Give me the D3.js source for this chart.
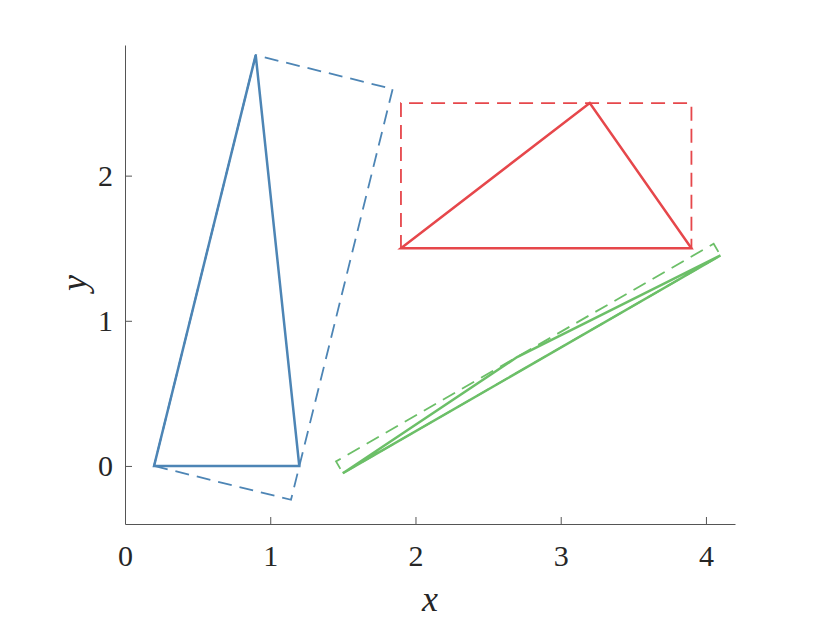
<html>
<title>Triangles and bounding boxes</title>
<script src="https://d3js.org/d3.v7.min.js"></script>
<style>
body { margin: 0; background: #fff; }
.tick text { font-family: "Liberation Serif", "Times New Roman", serif; font-size: 30px; fill: #262626; }
.axis path, .axis line { stroke: #555; stroke-width: 1; }
.lbl { font-family: "Liberation Serif", "Times New Roman", serif; font-style: italic; font-size: 36px; fill: #262626; }
</style>
<body>
<svg width="830" height="623"></svg>
<script>

// triangles (solid) and their bounding rectangles (dashed), in data units
var blueTri  = [[0.2, 0], [0.9, 2.83], [1.2, 0]];
var blueBox  = [[0.2, 0], [1.143, -0.233], [1.843, 2.597], [0.9, 2.83]];
var redTri   = [[1.9, 1.5], [3.2, 2.5], [3.9, 1.5]];
var redBox   = [[1.9, 1.5], [3.9, 1.5], [3.9, 2.5], [1.9, 2.5]];
var greenTri = [[1.5, -0.05], [2.7, 0.75], [4.1, 1.45]];
var greenBox = [[1.5, -0.05], [4.1, 1.45], [4.053, 1.531], [1.453, 0.031]];

var xTicks = [0, 1, 2, 3, 4];
var yTicks = [0, 1, 2];

var shapes = [
	{ pts: blueBox,  color: "#4d85b5", dash: "14,8", w: 1.8 },
	{ pts: redBox,   color: "#e6474b", dash: "14,8", w: 1.8 },
	{ pts: greenBox, color: "#6cbf68", dash: "14,8", w: 1.8 },
	{ pts: blueTri,  color: "#4d85b5", dash: null,   w: 2.5 },
	{ pts: redTri,   color: "#e6474b", dash: null,   w: 2.5 },
	{ pts: greenTri, color: "#6cbf68", dash: null,   w: 2.5 }
];

var svg = d3.select("svg");

var x = d3.scaleLinear().domain([0, 4.2]).range([125, 735]);
var y = d3.scaleLinear().domain([-0.4, 2.9]).range([524, 45]);

var line = d3.line()
	.x(function (d) { return x(d[0]); })
	.y(function (d) { return y(d[1]); })
	.curve(d3.curveLinearClosed);

svg.selectAll("path.shape").data(shapes).enter().append("path")
	.attr("class", "shape")
	.attr("d", function (d) { return line(d.pts); })
	.attr("fill", "none")
	.attr("stroke", function (d) { return d.color; })
	.attr("stroke-width", function (d) { return d.w; })
	.attr("stroke-dasharray", function (d) { return d.dash; })
	.attr("stroke-linejoin", "miter");

svg.append("g").attr("class", "axis")
	.attr("transform", "translate(0,524)")
	.call(d3.axisBottom(x).tickValues(xTicks).tickFormat(d3.format("d"))
		.tickSizeInner(-7).tickSizeOuter(0).tickPadding(21));

svg.append("g").attr("class", "axis")
	.attr("transform", "translate(125,0)")
	.call(d3.axisLeft(y).tickValues(yTicks).tickFormat(d3.format("d"))
		.tickSizeInner(-7).tickSizeOuter(0).tickPadding(12));

svg.selectAll(".axis .domain").attr("stroke", "#555");

svg.append("text").attr("class", "lbl")
	.attr("x", 430).attr("y", 611)
	.attr("text-anchor", "middle")
	.text("x");

svg.append("text").attr("class", "lbl")
	.attr("transform", "translate(86,283) rotate(-90)")
	.attr("text-anchor", "middle")
	.text("y");

</script>
</body>
</html>
